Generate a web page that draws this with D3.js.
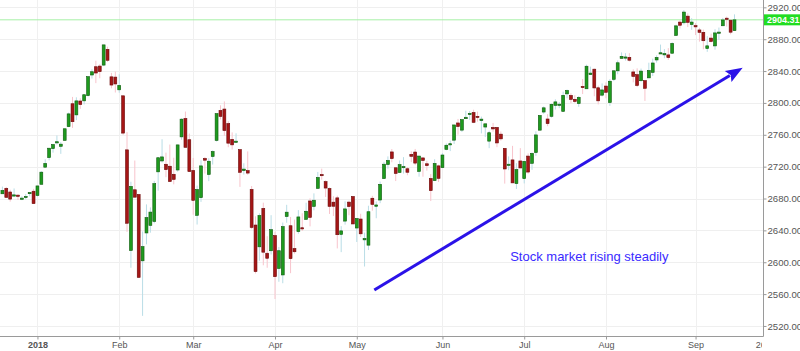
<!DOCTYPE html>
<html><head><meta charset="utf-8">
<script src="https://cdn.jsdelivr.net/npm/d3@7"></script>
<style>html,body{margin:0;padding:0;background:#fff;overflow:hidden}svg{display:block;font-family:"Liberation Sans",Arial,sans-serif}</style>
</head><body>
<svg id="chart" width="800" height="351"></svg>
<script>
const dates = ["2017-12-18","2017-12-19","2017-12-20","2017-12-21","2017-12-22","2017-12-26","2017-12-27","2017-12-28","2017-12-29",
"2018-01-02","2018-01-03","2018-01-04","2018-01-05","2018-01-08","2018-01-09","2018-01-10","2018-01-11","2018-01-12","2018-01-16","2018-01-17","2018-01-18","2018-01-19","2018-01-22","2018-01-23","2018-01-24","2018-01-25","2018-01-26","2018-01-29","2018-01-30","2018-01-31",
"2018-02-01","2018-02-02","2018-02-05","2018-02-06","2018-02-07","2018-02-08","2018-02-09","2018-02-12","2018-02-13","2018-02-14","2018-02-15","2018-02-16","2018-02-20","2018-02-21","2018-02-22","2018-02-23","2018-02-26","2018-02-27","2018-02-28",
"2018-03-01","2018-03-02","2018-03-05","2018-03-06","2018-03-07","2018-03-08","2018-03-09","2018-03-12","2018-03-13","2018-03-14","2018-03-15","2018-03-16","2018-03-19","2018-03-20","2018-03-21","2018-03-22","2018-03-23","2018-03-26","2018-03-27","2018-03-28","2018-03-29",
"2018-04-02","2018-04-03","2018-04-04","2018-04-05","2018-04-06","2018-04-09","2018-04-10","2018-04-11","2018-04-12","2018-04-13","2018-04-16","2018-04-17","2018-04-18","2018-04-19","2018-04-20","2018-04-23","2018-04-24","2018-04-25","2018-04-26","2018-04-27","2018-04-30",
"2018-05-01","2018-05-02","2018-05-03","2018-05-04","2018-05-07","2018-05-08","2018-05-09","2018-05-10","2018-05-11","2018-05-14","2018-05-15","2018-05-16","2018-05-17","2018-05-18","2018-05-21","2018-05-22","2018-05-23","2018-05-24","2018-05-25","2018-05-29","2018-05-30","2018-05-31",
"2018-06-01","2018-06-04","2018-06-05","2018-06-06","2018-06-07","2018-06-08","2018-06-11","2018-06-12","2018-06-13","2018-06-14","2018-06-15","2018-06-18","2018-06-19","2018-06-20","2018-06-21","2018-06-22","2018-06-25","2018-06-26","2018-06-27","2018-06-28","2018-06-29",
"2018-07-02","2018-07-03","2018-07-05","2018-07-06","2018-07-09","2018-07-10","2018-07-11","2018-07-12","2018-07-13","2018-07-16","2018-07-17","2018-07-18","2018-07-19","2018-07-20","2018-07-23","2018-07-24","2018-07-25","2018-07-26","2018-07-27","2018-07-30","2018-07-31",
"2018-08-01","2018-08-02","2018-08-03","2018-08-06","2018-08-07","2018-08-08","2018-08-09","2018-08-10","2018-08-13","2018-08-14","2018-08-15","2018-08-16","2018-08-17","2018-08-20","2018-08-21","2018-08-22","2018-08-23","2018-08-24","2018-08-27","2018-08-28","2018-08-29","2018-08-30","2018-08-31",
"2018-09-04","2018-09-05","2018-09-06","2018-09-07","2018-09-10","2018-09-11","2018-09-12","2018-09-13","2018-09-14","2018-09-17","2018-09-18"];

const opens = [2685.92,2692.71,2688.18,2683.02,2684.22,2679.09,2682.10,2686.10,2689.15,
2683.73,2697.85,2719.31,2731.33,2742.67,2751.15,2745.55,2752.97,2770.18,2798.96,2784.99,2802.40,2802.60,2809.16,2835.05,2845.42,2846.24,2847.48,2867.23,2832.74,2832.41,
2816.45,2808.92,2741.06,2614.78,2690.95,2685.01,2601.78,2636.75,2646.27,2651.21,2713.46,2727.14,2722.99,2720.53,2710.42,2715.80,2757.37,2780.45,2753.78,
2715.22,2658.89,2681.06,2730.18,2710.18,2732.75,2752.91,2790.54,2792.31,2774.06,2754.27,2750.57,2741.38,2715.05,2714.99,2691.36,2646.71,2619.35,2667.57,2611.30,2614.41,
2633.45,2592.17,2584.04,2657.36,2645.82,2617.18,2638.41,2643.30,2653.83,2676.90,2670.10,2692.74,2710.11,2701.16,2692.56,2675.40,2680.80,2634.92,2651.65,2675.47,2682.51,
2642.96,2654.24,2628.08,2621.45,2680.34,2670.26,2678.12,2705.02,2722.70,2738.47,2718.59,2712.62,2719.71,2717.35,2735.39,2738.34,2713.98,2730.94,2723.60,2705.11,2702.43,2720.98,
2718.70,2741.67,2748.46,2753.25,2774.84,2765.84,2780.18,2785.60,2787.94,2783.21,2777.78,2769.73,2752.01,2769.28,2769.28,2760.79,2742.94,2722.12,2728.45,2698.69,2727.13,
2704.95,2733.27,2724.19,2737.68,2765.79,2788.56,2779.82,2783.14,2796.93,2797.36,2789.34,2811.35,2809.37,2804.55,2799.17,2820.68,2817.73,2835.49,2842.35,2819.00,2809.73,
2821.17,2800.48,2829.62,2840.29,2855.92,2856.79,2857.19,2838.90,2835.46,2827.88,2827.95,2831.44,2838.32,2853.93,2861.51,2860.99,2860.29,2862.35,2884.69,2901.45,2900.62,2908.94,2898.37,
2896.96,2891.59,2888.64,2868.26,2881.39,2871.57,2888.29,2896.85,2906.38,2903.83,2890.74];

const highs = [2694.97,2694.44,2691.01,2692.64,2685.35,2682.74,2685.64,2687.66,2692.12,
2695.89,2714.37,2729.29,2743.45,2748.51,2759.14,2750.80,2767.56,2787.85,2807.54,2807.04,2805.83,2810.33,2833.03,2842.24,2852.97,2848.56,2872.87,2870.62,2837.75,2839.26,
2835.96,2808.92,2763.39,2701.04,2727.67,2685.27,2638.67,2672.61,2668.84,2702.10,2731.51,2754.42,2737.60,2747.75,2731.26,2747.76,2780.64,2789.15,2761.52,
2730.89,2696.25,2728.09,2732.08,2730.60,2740.45,2786.57,2796.98,2801.90,2777.11,2763.03,2761.85,2741.38,2724.22,2739.14,2695.68,2657.67,2661.36,2674.78,2632.65,2659.07,
2638.30,2619.14,2649.86,2672.08,2656.88,2653.55,2665.45,2661.43,2674.72,2680.26,2686.49,2713.34,2717.49,2702.84,2693.94,2682.86,2683.55,2645.30,2676.48,2677.35,2682.87,
2655.27,2660.87,2637.14,2670.93,2683.35,2676.34,2701.27,2726.11,2732.86,2742.10,2718.59,2727.76,2731.96,2719.50,2739.19,2742.24,2733.33,2731.97,2727.36,2710.67,2729.34,2722.50,
2736.93,2749.16,2752.61,2772.39,2779.90,2779.39,2790.21,2789.80,2791.47,2789.06,2782.81,2774.01,2765.05,2774.86,2769.28,2764.17,2742.94,2732.91,2746.09,2724.34,2743.26,
2727.26,2736.58,2737.83,2764.41,2784.65,2795.58,2785.91,2799.22,2804.53,2801.19,2814.19,2816.76,2812.05,2809.70,2808.61,2829.99,2848.03,2845.57,2843.17,2821.74,2824.46,
2825.83,2829.91,2840.38,2853.29,2863.43,2862.44,2862.48,2842.20,2843.40,2843.11,2827.95,2850.49,2855.63,2859.76,2873.23,2867.54,2868.78,2876.16,2898.25,2903.77,2916.50,2912.46,2906.32,
2900.18,2894.21,2892.05,2883.81,2886.93,2892.52,2894.65,2906.76,2908.30,2904.65,2911.17];

const lows = [2685.92,2680.74,2676.11,2682.40,2678.13,2677.96,2678.91,2682.69,2673.61,
2682.36,2697.77,2719.07,2727.92,2737.60,2747.86,2736.06,2752.78,2769.64,2768.64,2778.38,2792.56,2798.08,2808.12,2830.59,2824.81,2830.94,2846.18,2851.48,2818.27,2813.04,
2812.70,2759.97,2638.17,2593.07,2681.33,2580.56,2532.69,2622.45,2637.08,2648.87,2689.82,2725.11,2706.76,2701.29,2697.77,2713.74,2753.78,2744.22,2713.54,
2659.65,2647.32,2675.75,2711.26,2701.74,2722.65,2751.54,2779.26,2758.68,2744.38,2741.47,2749.97,2694.59,2710.05,2709.79,2641.59,2585.89,2601.81,2596.12,2593.06,2609.72,
2553.80,2575.49,2573.61,2649.58,2586.27,2610.79,2635.78,2639.25,2653.83,2645.05,2665.16,2692.05,2703.63,2681.90,2660.61,2657.99,2617.32,2612.67,2647.16,2659.01,2648.04,
2625.41,2631.70,2594.62,2615.32,2664.70,2655.20,2674.14,2704.54,2717.45,2725.47,2701.91,2712.17,2711.36,2709.18,2725.70,2721.88,2707.38,2707.38,2714.99,2676.81,2702.43,2700.68,
2718.70,2740.54,2739.51,2748.46,2760.16,2763.59,2780.17,2778.78,2774.65,2776.52,2761.73,2757.12,2743.19,2763.91,2744.39,2752.68,2698.67,2715.60,2699.38,2691.99,2718.03,
2698.95,2711.16,2716.02,2733.52,2765.79,2786.24,2770.77,2781.53,2791.69,2793.39,2789.24,2805.89,2799.77,2800.01,2795.14,2811.12,2817.73,2835.26,2808.34,2798.11,2808.06,
2805.85,2796.34,2827.37,2835.98,2855.92,2853.09,2851.98,2825.81,2819.88,2826.58,2802.49,2831.44,2833.73,2850.62,2861.32,2856.05,2854.03,2862.35,2884.69,2893.50,2898.40,2895.22,2891.73,
2885.13,2876.92,2867.29,2864.12,2875.94,2866.78,2879.20,2896.39,2895.77,2886.16,2890.43];

const closes = [2690.16,2681.47,2679.25,2684.57,2683.34,2680.50,2682.62,2687.54,2673.61,
2695.81,2713.06,2723.99,2743.15,2747.71,2751.29,2748.23,2767.56,2786.24,2776.42,2802.56,2798.03,2810.30,2832.97,2839.13,2837.54,2839.25,2872.87,2853.53,2822.43,2823.81,
2821.98,2762.13,2648.94,2695.14,2681.66,2581.00,2619.55,2656.00,2662.94,2698.63,2731.20,2732.22,2716.26,2701.33,2703.96,2747.30,2779.60,2744.28,2713.83,
2677.67,2691.25,2720.94,2728.12,2726.80,2738.97,2786.57,2783.02,2765.31,2749.48,2747.33,2752.01,2712.92,2716.94,2711.93,2643.69,2588.26,2658.55,2612.62,2605.00,2640.87,
2581.88,2614.45,2644.69,2662.84,2604.47,2613.16,2656.87,2642.19,2663.99,2656.30,2677.84,2706.39,2708.64,2693.13,2670.14,2670.29,2634.56,2639.40,2666.94,2669.91,2648.05,
2654.80,2635.67,2629.73,2663.42,2672.63,2671.92,2697.79,2723.07,2727.72,2730.13,2711.45,2722.46,2720.13,2712.97,2733.01,2724.44,2733.29,2727.76,2721.33,2689.86,2724.01,2705.27,
2734.62,2746.87,2748.80,2772.35,2770.37,2779.03,2782.00,2786.85,2775.63,2782.49,2779.66,2773.75,2762.59,2767.32,2749.76,2754.88,2717.07,2723.06,2699.63,2716.31,2718.37,
2726.71,2713.22,2736.61,2759.82,2784.17,2793.84,2774.02,2798.29,2801.31,2798.43,2809.55,2815.62,2804.49,2801.83,2806.98,2820.40,2846.07,2837.44,2818.82,2802.60,2816.29,
2813.36,2827.22,2840.35,2850.40,2858.45,2857.70,2853.58,2833.28,2821.93,2839.96,2818.37,2840.69,2850.13,2857.05,2862.96,2861.82,2856.98,2874.69,2896.74,2897.52,2914.04,2901.13,2901.52,
2896.72,2888.60,2878.05,2871.68,2877.13,2887.89,2888.92,2904.18,2904.98,2888.80,2904.31];

// axis ticks
const yTicks = [2520,2560,2600,2640,2680,2720,2760,2800,2840,2880,2920];
const xTickDates = ["2018-01-02","2018-02-01","2018-03-01","2018-04-02","2018-05-01","2018-06-01","2018-07-02","2018-08-01","2018-09-04"];
const xTickLabels = ["2018","Feb","Mar","Apr","May","Jun","Jul","Aug","Sep"];
const extraTickIndex = 194, extraTickLabel = "26";
const lastValue = 2904.31;

// annotation (index, value)
const arrowFrom = [95.5, 2565.2];
const arrowTo = [190.1, 2844.2];
const noteAt = [130.4, 2601.4];
const noteText = "Stock market rising steadily";

const W = 800, H = 351;
const plotRight = 763, plotBottom = 336;
const svg = d3.select("#chart");

const x = d3.scaleLinear().domain([0, dates.length - 1]).range([2.4, 734.5]);
const y = d3.scaleLinear().domain([2507.4, 2929.2]).range([plotBottom, 0]);

svg.append("defs").append("clipPath").attr("id","plotclip")
  .append("rect").attr("x",0).attr("y",0).attr("width",plotRight).attr("height",plotBottom);

// gridlines
const grid = svg.append("g");
grid.selectAll("line.h").data(yTicks).join("line")
  .attr("x1",0).attr("x2",plotRight)
  .attr("y1",d=>Math.round(y(d))+0.5).attr("y2",d=>Math.round(y(d))+0.5)
  .attr("stroke","#efefef").attr("stroke-width",1);
const xTickIdx = xTickDates.map(d => dates.indexOf(d));
grid.selectAll("line.v").data(xTickIdx).join("line")
  .attr("x1",d=>Math.round(x(d))+0.5).attr("x2",d=>Math.round(x(d))+0.5)
  .attr("y1",0).attr("y2",plotBottom)
  .attr("stroke","#f0f0f0").attr("stroke-width",1);

// last value line
svg.append("line").attr("x1",0).attr("x2",plotRight)
  .attr("y1",y(lastValue)).attr("y2",y(lastValue))
  .attr("stroke","#a6f0a6").attr("stroke-width",1);

// candles
const candles = dates.map((d,i)=>({i, o:opens[i], h:highs[i], l:lows[i], c:closes[i]}));
const cg = svg.append("g").attr("clip-path","url(#plotclip)");
const bw = 2.9;
cg.selectAll("line.wick").data(candles).join("line")
  .attr("x1",d=>x(d.i)).attr("x2",d=>x(d.i))
  .attr("y1",d=>y(d.h)).attr("y2",d=>y(d.l))
  .attr("stroke",d=>d.c>=d.o?"#b9dde6":"#f8c4cc").attr("stroke-width",1);
cg.selectAll("rect.body").data(candles).join("rect")
  .attr("x",d=>x(d.i)-bw/2)
  .attr("y",d=>y(Math.max(d.o,d.c)))
  .attr("width",bw)
  .attr("height",d=>Math.max(1.2, Math.abs(y(d.o)-y(d.c))))
  .attr("fill",d=>d.c>=d.o?"#1e9a1e":"#a51616")
  .attr("stroke",d=>d.c>=d.o?"#0c5a0c":"#6a0808").attr("stroke-width",0.6);

// axes lines
svg.append("line").attr("x1",0).attr("x2",plotRight+0.5).attr("y1",plotBottom+0.5).attr("y2",plotBottom+0.5)
  .attr("stroke","#9a9a9a").attr("stroke-width",1);
svg.append("line").attr("x1",plotRight+0.5).attr("x2",plotRight+0.5).attr("y1",0).attr("y2",plotBottom+0.5)
  .attr("stroke","#9a9a9a").attr("stroke-width",1);

// y axis (right)
const yAxis = d3.axisRight(y).tickValues(yTicks).tickSize(3).tickPadding(1).tickFormat(d3.format(".2f"));
const yg = svg.append("g").attr("transform",`translate(${plotRight+0.5},0)`).call(yAxis);
yg.select(".domain").remove();
yg.selectAll(".tick line").attr("stroke","#9a9a9a");
yg.selectAll(".tick text").attr("fill","#555").attr("font-size",9.6).attr("font-family","Liberation Sans, Arial, sans-serif");

// x axis
const xAxis = d3.axisBottom(x).tickValues(xTickIdx).tickSize(3).tickPadding(2)
  .tickFormat((d,i)=>xTickLabels[i]);
const xg = svg.append("g").attr("transform",`translate(0,${plotBottom+0.5})`).call(xAxis);
xg.select(".domain").remove();
xg.selectAll(".tick line").attr("stroke","#9a9a9a");
xg.selectAll(".tick text").attr("fill","#555").attr("font-size",9).attr("font-family","Liberation Sans, Arial, sans-serif")
  .attr("font-weight",(d,i)=>i===0?"bold":"normal");

// clipped extra tick label
svg.append("clipPath").attr("id","xlabclip").append("rect").attr("x",0).attr("y",plotBottom).attr("width",plotRight-1).attr("height",20);
svg.append("text").attr("clip-path","url(#xlabclip)")
  .attr("x",x(extraTickIndex)-2).attr("y",plotBottom+11.9)
  .attr("fill","#555").attr("font-size",9).text(extraTickLabel);

// last value tag
const tagY = y(lastValue);
svg.append("rect").attr("x",plotRight+1).attr("y",tagY-5.5).attr("width",W-plotRight).attr("height",11).attr("fill","#22dd22");
svg.append("text").attr("x",plotRight+4).attr("y",tagY+3.3).attr("fill","#fff").attr("font-size",9).attr("font-weight","bold")
  .text(lastValue.toFixed(2));

// annotation arrow
const ax1 = x(arrowFrom[0]), ay1 = y(arrowFrom[1]), ax2 = x(arrowTo[0]), ay2 = y(arrowTo[1]);
const ang = Math.atan2(ay2-ay1, ax2-ax1);
const headL = 17, headW = 6.5;
const bx = ax2 - headL*Math.cos(ang), by = ay2 - headL*Math.sin(ang);
svg.append("line").attr("x1",ax1).attr("y1",ay1).attr("x2",bx+2*Math.cos(ang)).attr("y2",by+2*Math.sin(ang))
  .attr("stroke","#2b12e8").attr("stroke-width",3);
svg.append("path").attr("d",d3.line()([
  [ax2,ay2],
  [bx - headW*Math.sin(ang), by + headW*Math.cos(ang)],
  [bx + 3*Math.cos(ang), by + 3*Math.sin(ang)],
  [bx + headW*Math.sin(ang), by - headW*Math.cos(ang)]
])+"Z").attr("fill","#2b12e8");

svg.append("text").attr("x",x(noteAt[0])).attr("y",y(noteAt[1]))
  .attr("fill","#3a2bff").attr("font-size",13).text(noteText);
</script>
</body></html>
